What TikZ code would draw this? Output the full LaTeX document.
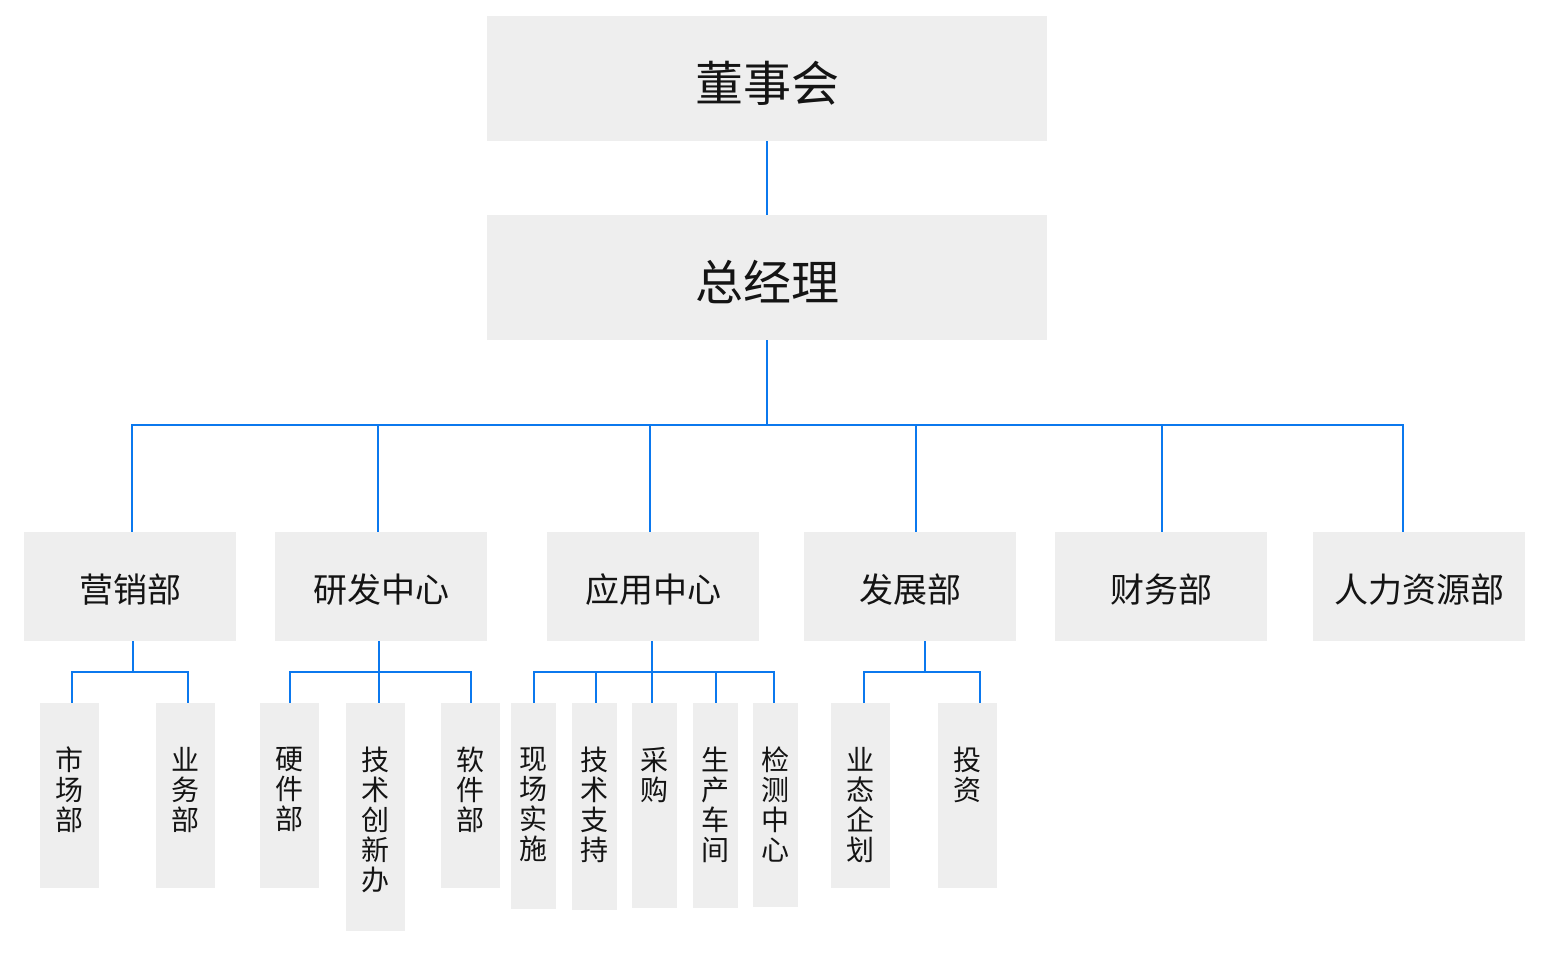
\documentclass[tikz,border=0pt]{standalone}
\usepackage{fontspec}
\setmainfont{Noto Sans CJK SC}
\definecolor{boxgray}{HTML}{EEEEEE}
\definecolor{linkblue}{HTML}{0B78EE}
\definecolor{inkgray}{HTML}{141414}

\begin{document}
\begin{tikzpicture}[x=1pt,y=-1pt,
  every node/.style = {fill=boxgray, inner sep=0pt, text=inkgray},
  topbox/.style = {minimum width=560pt, minimum height=125pt,
    text height=52pt, text depth=6pt, font=\fontsize{48}{52}\selectfont},
  deptbox/.style = {minimum width=212pt, minimum height=109pt,
    text height=36pt, text depth=4pt, font=\fontsize{34}{38}\selectfont},
  subbox/.style = {anchor=north},
  subtext/.style = {fill=none, anchor=north, yshift=-44pt, align=center,
    font=\fontsize{28}{30}\selectfont},
  link/.style = {draw=linkblue, line width=2pt}]
  \useasboundingbox (0,0) rectangle (1542,958);

  \node[topbox] (dsh) at (767,78.5) {董事会};
  \node[topbox] (zjl) at (767,277.5) {总经理};

  \node[deptbox] (yx) at (130,586.5) {营销部};
  \node[deptbox] (yf) at (381,586.5) {研发中心};
  \node[deptbox] (yy) at (653,586.5) {应用中心};
  \node[deptbox] (fz) at (910,586.5) {发展部};
  \node[deptbox] (cw) at (1161,586.5) {财务部};
  \node[deptbox] (rl) at (1419,586.5) {人力资源部};

  % vertical boxes under the departments
  \foreach \n/\x/\w/\h/\t in {
      sc/69.5/59/185/{市\\场\\部}, yw/185.5/59/185/{业\\务\\部},
      yj/289.5/59/185/{硬\\件\\部}, cx/375.5/59/228/{技\\术\\创\\新\\办},
      rj/470.5/59/185/{软\\件\\部},
      xc/533.5/45/206/{现\\场\\实\\施}, zc/594.5/45/207/{技\\术\\支\\持},
      cg/654.5/45/205/{采\\购}, cj/715.5/45/205/{生\\产\\车\\间},
      jc/775.5/45/204/{检\\测\\中\\心},
      qh/860.5/59/185/{业\\态\\企\\划}, tz/967.5/59/185/{投\\资}}{
    \node[subbox, minimum width=\w pt, minimum height=\h pt] (\n) at (\x,703) {};
    \node[subtext] (\n-t) at (\n.north) {\t};
  }

  \draw[link] (dsh) -- (zjl);
  \draw[link] (zjl.south) -- ++(0,85) coordinate (bus);
  \foreach \d/\s in {yx/2, yf/-3, yy/-3, fz/6, cw/1, rl/-16}
    \draw[link] (bus) -| ([xshift=\s pt]\d.north);

  \foreach \p/\ps in {yx/3, yf/-2, yy/-1, fz/15}
    \draw[link] ([xshift=\ps pt]\p.south) -- ++(0,31) coordinate (\p-bus);
  \foreach \p/\c/\s in {yx/sc/2.5, yx/yw/2.5, yf/yj/0.5, yf/cx/3.5, yf/rj/0.5,
      yy/xc/0.5, yy/zc/1.5, yy/cg/-2.5, yy/cj/0.5, yy/jc/-1.5,
      fz/qh/3.5, fz/tz/12.5}
    \draw[link] (\p-bus) -| ([xshift=\s pt]\c.north);
\end{tikzpicture}
\end{document}
